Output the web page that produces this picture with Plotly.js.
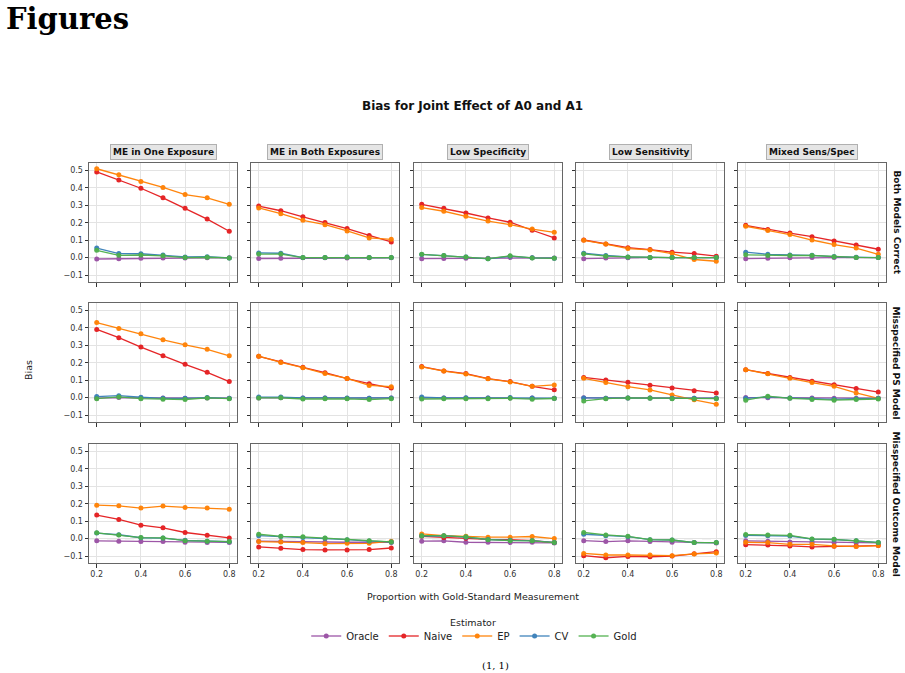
<!DOCTYPE html>
<html>
<head>
<meta charset="utf-8">
<script src="https://cdn.plot.ly/plotly-3.0.1.min.js"></script>
<style>
html,body{margin:0;padding:0;background:#fff;}
#chart{width:905px;height:673px;}
</style>
</head>
<body>
<div id="chart"></div>
<script>
const proportion = [0.2, 0.3, 0.4, 0.5, 0.6, 0.7, 0.8];
const scenarios = ["ME in One Exposure", "ME in Both Exposures", "Low Specificity", "Low Sensitivity", "Mixed Sens/Spec"];
const models = ["Both Models Correct", "Misspecified PS Model", "Misspecified Outcome Model"];
const estimators = ["Oracle", "Naive", "EP", "CV", "Gold"];

// one list per panel, panels ordered row by row (model), then column (scenario)
const oracle = [
  [-0.008,-0.006,-0.003,-0.002,-0.002,-0.001,-0.001],
  [-0.005,-0.004,-0.001,-0.001,-0.002,-0.001,-0.001],
  [-0.006,-0.005,-0.003,-0.004,0.0,-0.001,-0.002],
  [-0.006,-0.002,-0.001,0.0,0.0,0.0,0.0],
  [-0.006,-0.004,-0.001,0.0,0.0,0.0,0.0],
  [-0.003,0.0,-0.002,-0.002,-0.003,-0.002,-0.003],
  [-0.002,-0.001,-0.002,-0.002,-0.003,-0.003,-0.002],
  [-0.002,-0.002,-0.002,-0.002,-0.002,-0.002,-0.003],
  [-0.001,-0.003,-0.002,-0.002,-0.003,-0.003,-0.003],
  [0.0,-0.001,-0.002,-0.002,-0.003,-0.003,-0.003],
  [-0.013,-0.015,-0.017,-0.016,-0.021,-0.022,-0.022],
  [-0.015,-0.017,-0.020,-0.020,-0.021,-0.021,-0.022],
  [-0.015,-0.013,-0.021,-0.021,-0.023,-0.021,-0.025],
  [-0.012,-0.017,-0.013,-0.017,-0.021,-0.023,-0.025],
  [-0.013,-0.015,-0.019,-0.021,-0.023,-0.025,-0.025]
];
const naive = [
  [0.492,0.445,0.398,0.343,0.284,0.221,0.151],
  [0.296,0.269,0.234,0.201,0.167,0.127,0.090],
  [0.306,0.283,0.256,0.228,0.203,0.157,0.113],
  [0.101,0.078,0.057,0.046,0.031,0.023,0.008],
  [0.185,0.161,0.141,0.120,0.096,0.073,0.048],
  [0.391,0.344,0.290,0.240,0.191,0.145,0.092],
  [0.237,0.204,0.174,0.143,0.109,0.080,0.055],
  [0.178,0.153,0.138,0.109,0.092,0.065,0.045],
  [0.116,0.101,0.088,0.071,0.055,0.040,0.027],
  [0.160,0.139,0.116,0.094,0.074,0.052,0.032],
  [0.135,0.110,0.077,0.062,0.035,0.019,0.004],
  [-0.048,-0.056,-0.063,-0.065,-0.065,-0.063,-0.054],
  [0.013,0.006,0.002,-0.004,-0.006,-0.012,-0.023],
  [-0.098,-0.110,-0.102,-0.104,-0.100,-0.087,-0.075],
  [-0.035,-0.037,-0.042,-0.048,-0.044,-0.044,-0.040]
];
const ep = [
  [0.510,0.475,0.437,0.403,0.362,0.343,0.306],
  [0.285,0.252,0.214,0.189,0.153,0.113,0.105],
  [0.287,0.266,0.237,0.210,0.189,0.164,0.145],
  [0.099,0.078,0.052,0.044,0.023,-0.011,-0.021],
  [0.180,0.155,0.132,0.101,0.075,0.055,0.019],
  [0.431,0.397,0.366,0.332,0.303,0.277,0.240],
  [0.238,0.202,0.172,0.138,0.110,0.070,0.063],
  [0.176,0.152,0.135,0.108,0.090,0.065,0.073],
  [0.111,0.086,0.063,0.044,0.015,-0.013,-0.038],
  [0.160,0.137,0.111,0.086,0.065,0.027,-0.004],
  [0.192,0.188,0.175,0.187,0.179,0.175,0.169],
  [-0.017,-0.019,-0.023,-0.029,-0.027,-0.027,-0.015],
  [0.027,0.017,0.013,0.008,0.008,0.012,0.0],
  [-0.085,-0.094,-0.094,-0.094,-0.098,-0.088,-0.083],
  [-0.021,-0.023,-0.033,-0.033,-0.042,-0.046,-0.040]
];
const cv = [
  [0.055,0.023,0.022,0.015,0.004,0.005,-0.002],
  [0.027,0.025,0.0,0.0,0.003,0.0,0.0],
  [0.018,0.012,0.003,-0.007,0.008,-0.001,-0.003],
  [0.025,0.012,0.004,0.0,0.0,0.0,0.0],
  [0.031,0.019,0.015,0.013,0.006,0.002,0.0],
  [0.006,0.011,0.002,-0.004,-0.004,0.0,-0.004],
  [0.003,0.003,-0.002,-0.002,-0.002,-0.003,-0.002],
  [0.003,-0.002,-0.001,-0.002,0.0,-0.002,-0.003],
  [-0.002,-0.003,-0.002,-0.002,-0.003,-0.004,-0.003],
  [-0.004,0.004,-0.002,-0.006,-0.010,-0.006,-0.004],
  [0.032,0.022,0.005,0.003,-0.010,-0.015,-0.018],
  [0.017,0.012,0.007,0.002,-0.006,-0.014,-0.019],
  [0.015,0.016,0.008,-0.005,-0.010,-0.012,-0.022],
  [0.025,0.017,0.011,-0.006,-0.008,-0.023,-0.023],
  [0.018,0.017,0.015,-0.003,-0.005,-0.013,-0.022]
];
const gold = [
  [0.042,0.013,0.015,0.010,0.0,0.002,-0.002],
  [0.020,0.020,0.0,0.0,0.002,0.0,0.0],
  [0.019,0.012,0.004,-0.006,0.010,-0.002,-0.004],
  [0.021,0.008,0.004,0.0,0.0,0.0,0.0],
  [0.016,0.012,0.012,0.012,0.005,0.001,0.0],
  [-0.006,0.004,-0.006,-0.010,-0.011,-0.002,-0.006],
  [-0.002,-0.001,-0.008,-0.007,-0.007,-0.011,-0.006],
  [-0.008,-0.006,-0.006,-0.006,-0.004,-0.009,-0.005],
  [-0.019,-0.006,-0.002,-0.004,-0.006,-0.008,-0.006],
  [-0.015,0.008,-0.004,-0.011,-0.015,-0.011,-0.008],
  [0.033,0.021,0.006,0.004,-0.012,-0.015,-0.017],
  [0.025,0.013,0.010,0.004,-0.006,-0.012,-0.019],
  [0.017,0.017,0.010,-0.006,-0.012,-0.013,-0.023],
  [0.035,0.021,0.013,-0.006,-0.008,-0.023,-0.023],
  [0.023,0.021,0.019,-0.002,-0.004,-0.013,-0.023]
];
const seriesValues = [oracle, naive, ep, cv, gold];
const colors = ["#984ea3", "#e41a1c", "#ff7f00", "#377eb8", "#4daf4a"];
const yTicks = [-0.1, 0, 0.1, 0.2, 0.3, 0.4, 0.5];
const xTicks = [0.2, 0.4, 0.6, 0.8];

const W = 905, H = 673;
const colLeft = [89, 251, 414, 576, 738];
const colWidth = 148;
const rowTop = [163, 303, 444];
const rowHeight = 119;
const px = v => v / W;
const py = v => 1 - v / H;
const FONT = "DejaVu Sans, sans-serif";

const traces = [];
const layout = {
  width: W, height: H,
  margin: {l: 0, r: 0, t: 0, b: 0},
  paper_bgcolor: "#ffffff",
  plot_bgcolor: "#ffffff",
  font: {family: FONT, color: "#222", size: 9},
  showlegend: true,
  legend: {
    orientation: "h", x: 0.524, xanchor: "center", y: py(636), yanchor: "middle",
    font: {family: FONT, size: 10, color: "#222"}, itemwidth: 30, tracegroupgap: 0
  },
  annotations: [],
  shapes: []
};

for (let r = 0; r < 3; r++) {
  for (let c = 0; c < 5; c++) {
    const i = r * 5 + c;
    const n = i === 0 ? "" : String(i + 1);
    const xa = "xaxis" + n, ya = "yaxis" + n;
    layout[xa] = {
      domain: [px(colLeft[c]), px(colLeft[c] + colWidth)],
      anchor: "y" + n,
      range: [0.165, 0.835],
      tickvals: xTicks, ticktext: xTicks.map(v => v.toFixed(1)),
      showticklabels: r === 2,
      ticks: "outside", ticklen: 3.5, tickwidth: 1, tickcolor: "#333",
      tickfont: {family: FONT, size: 8, color: "#333"},
      showgrid: true, gridcolor: "#e3e3e3", gridwidth: 1,
      zeroline: false, showline: true, linecolor: "#666", linewidth: 1, mirror: true
    };
    layout[ya] = {
      domain: [py(rowTop[r] + rowHeight), py(rowTop[r])],
      anchor: "x" + n,
      range: [-0.14, 0.543],
      tickvals: yTicks, ticktext: yTicks.map(v => v < 0 ? "\u2212" + Math.abs(v).toFixed(1) : v.toFixed(1)),
      showticklabels: c === 0,
      ticks: "outside", ticklen: 3.5, tickwidth: 1, tickcolor: "#333",
      tickfont: {family: FONT, size: 8, color: "#333"},
      showgrid: true, gridcolor: "#e3e3e3", gridwidth: 1,
      zeroline: false, showline: true, linecolor: "#666", linewidth: 1, mirror: true
    };
    layout.shapes.push({
      type: "line", xref: "x" + n + " domain", yref: "y" + n,
      x0: 0, x1: 1, y0: 0, y1: 0, layer: "below",
      line: {color: "#999999", width: 1, dash: "dash"}
    });
    for (let s = 0; s < estimators.length; s++) {
      traces.push({
        type: "scatter", mode: "lines+markers",
        x: proportion, y: seriesValues[s][i],
        xaxis: "x" + n, yaxis: "y" + n,
        name: estimators[s], legendgroup: estimators[s],
        showlegend: i === 0,
        line: {color: colors[s], width: 1.3},
        marker: {color: colors[s], size: 5, symbol: "circle"},
        opacity: 0.95
      });
    }
  }
}

// strip titles (columns)
scenarios.forEach((t, c) => {
  layout.annotations.push({
    text: "<b>" + t + "</b>", xref: "paper", yref: "paper",
    x: px(colLeft[c] + colWidth / 2), y: py(152.5), xanchor: "center", yanchor: "middle",
    showarrow: false, font: {family: FONT, size: 9, color: "#111"},
    bgcolor: "#e5e5e5", bordercolor: "#b0b0b0", borderwidth: 1, borderpad: 2
  });
});
// row labels
models.forEach((t, r) => {
  layout.annotations.push({
    text: "<b>" + t + "</b>", xref: "paper", yref: "paper",
    x: px(896), y: py(rowTop[r] + rowHeight / 2), xanchor: "center", yanchor: "middle",
    textangle: 90, showarrow: false, font: {family: FONT, size: 9, color: "#111"}
  });
});
// titles
layout.annotations.push(
  {text: "<b>Bias for Joint Effect of A0 and A1</b>", xref: "paper", yref: "paper",
   x: px(472.5), y: py(106), xanchor: "center", yanchor: "middle", showarrow: false,
   font: {family: FONT, size: 12, color: "#111"}},
  {text: "Bias", xref: "paper", yref: "paper", x: px(28), y: py(370),
   xanchor: "center", yanchor: "middle", textangle: -90, showarrow: false,
   font: {family: FONT, size: 9.5, color: "#222"}},
  {text: "Proportion with Gold-Standard Measurement", xref: "paper", yref: "paper",
   x: px(472.5), y: py(596), xanchor: "center", yanchor: "middle", showarrow: false,
   font: {family: FONT, size: 9.5, color: "#222"}},
  {text: "Estimator", xref: "paper", yref: "paper", x: px(472.5), y: py(622),
   xanchor: "center", yanchor: "middle", showarrow: false,
   font: {family: FONT, size: 9.5, color: "#222"}},
  {text: "<b>Figures</b>", xref: "paper", yref: "paper", x: px(4), y: py(19),
   xanchor: "left", yanchor: "middle", showarrow: false,
   font: {family: "DejaVu Serif, serif", size: 29, color: "#000"}},
  {text: "(1, 1)", xref: "paper", yref: "paper", x: px(495), y: 0,
   xanchor: "center", yanchor: "bottom", showarrow: false,
   font: {family: "DejaVu Serif, serif", size: 10, color: "#000"}}
);

Plotly.newPlot("chart", traces, layout, {displayModeBar: false, staticPlot: true});
</script>
</body>
</html>
